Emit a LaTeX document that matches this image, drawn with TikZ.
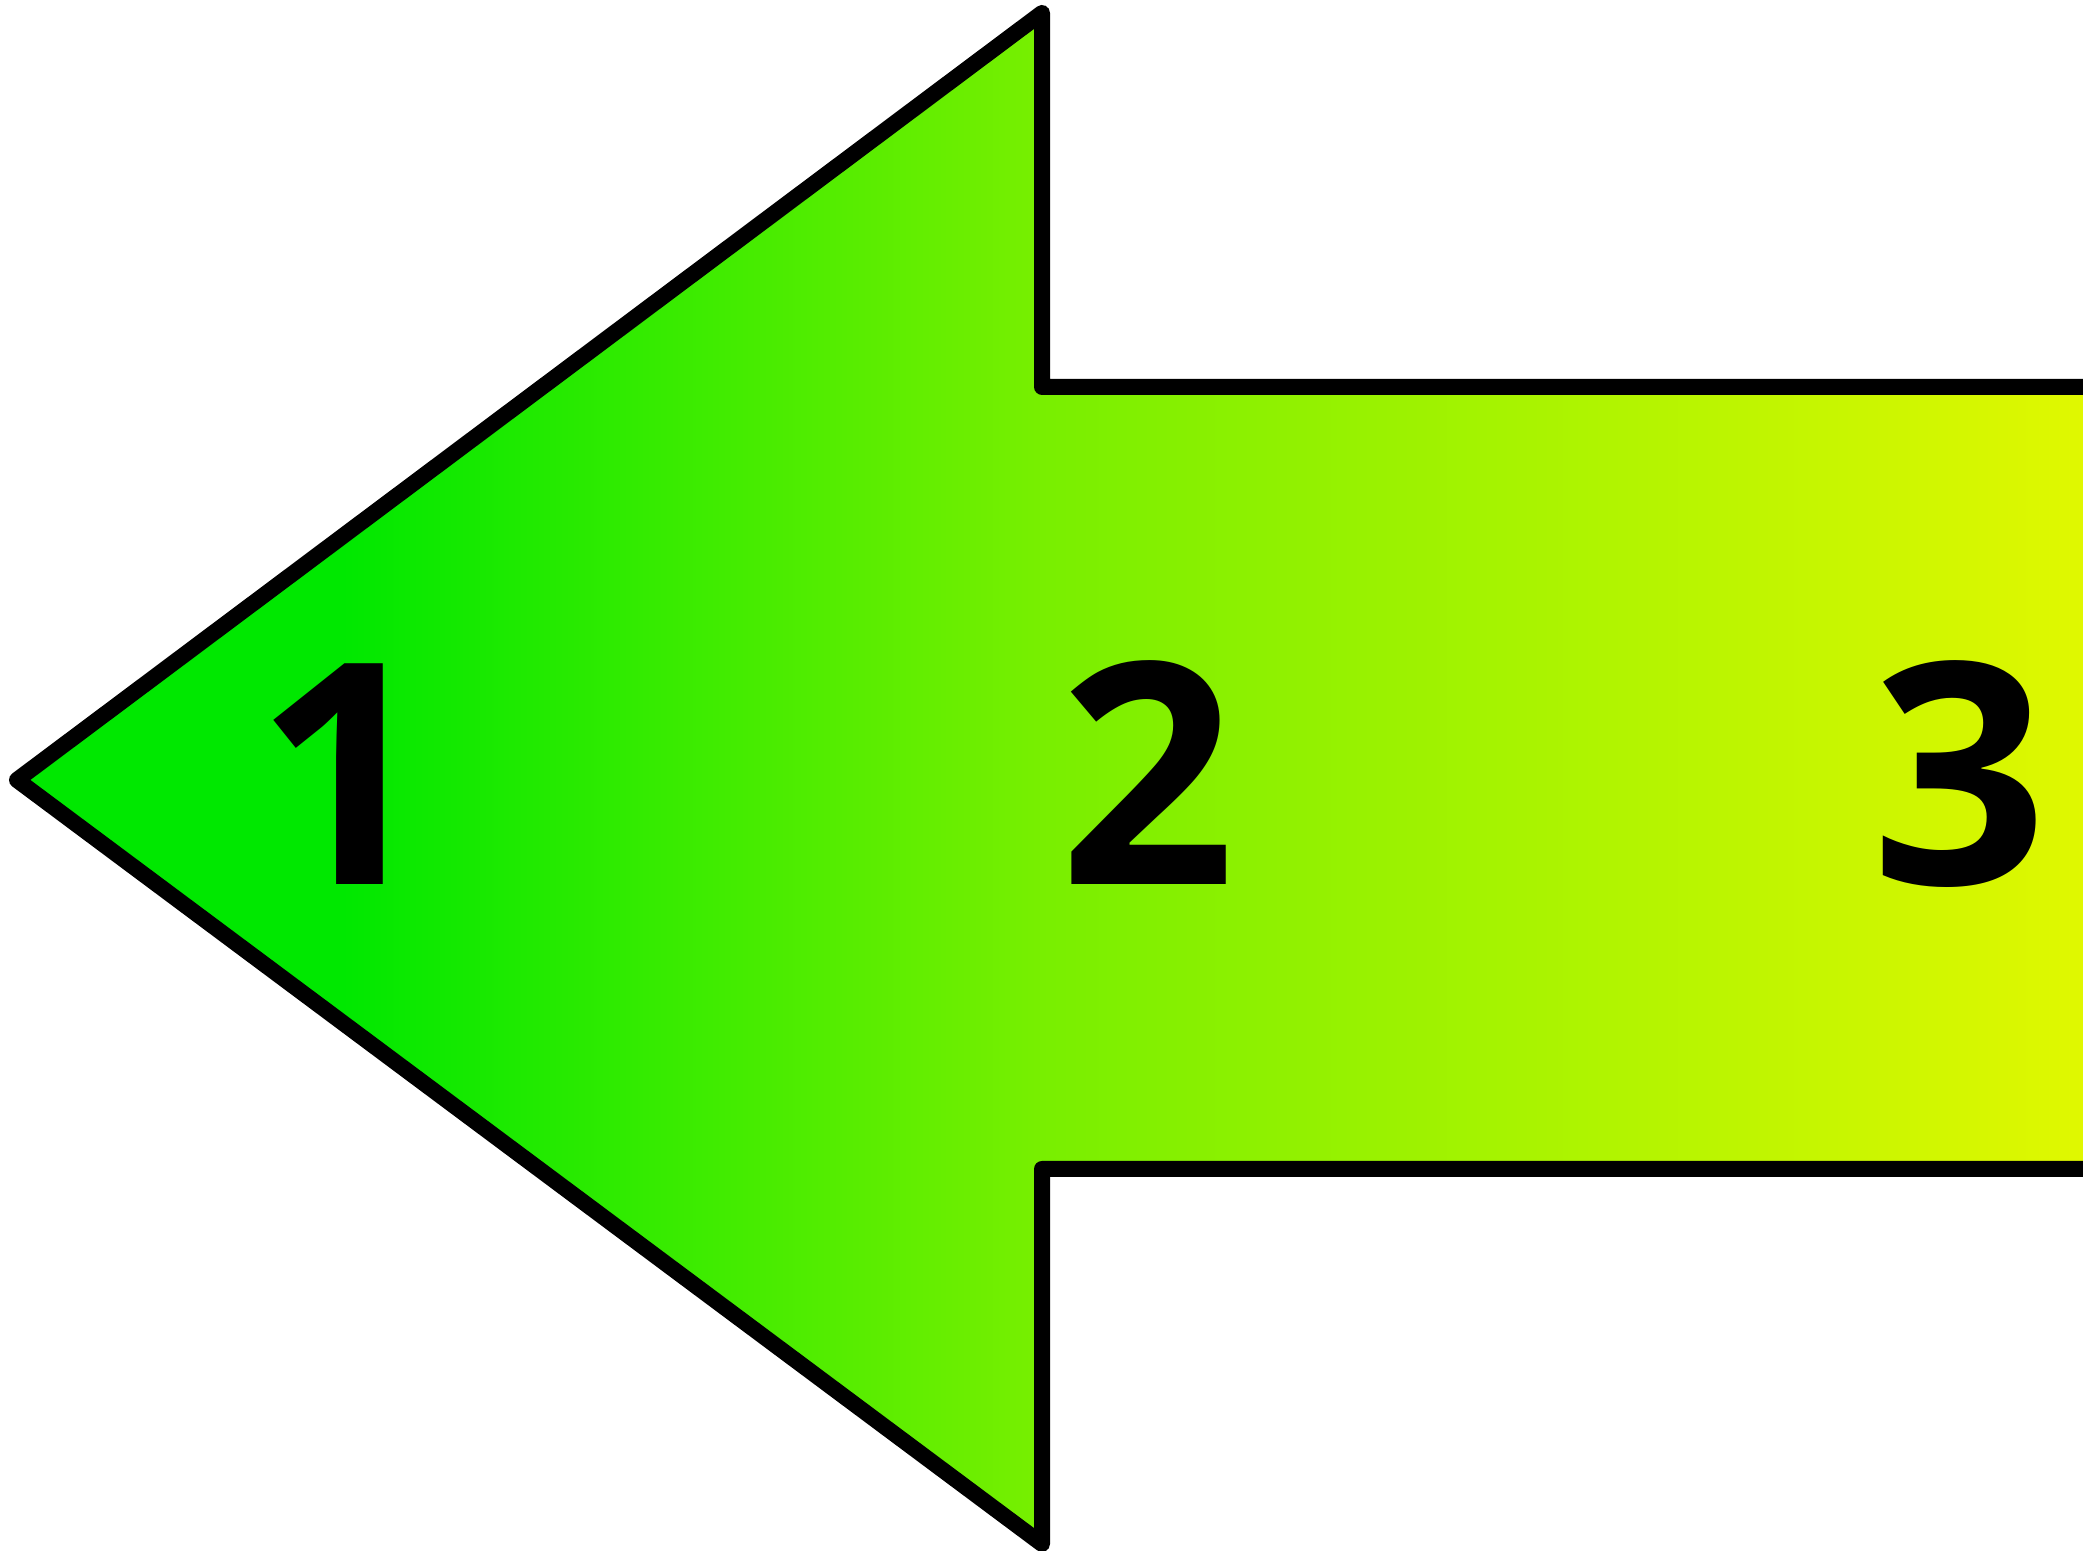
\documentclass[tikz,border=0pt]{standalone}
\usepackage{fontspec}
\setmainfont{Open Sans}
\definecolor{verdeA}{RGB}{0,232,0}
\definecolor{verdeB}{RGB}{120,239,0}
\definecolor{verdeC}{RGB}{224,248,0}
\begin{document}
\begin{tikzpicture}[numero/.style={anchor=base, inner sep=0pt, font=\fontsize{88}{88}\selectfont\bfseries}]
        % Marco de la figura
        \useasboundingbox (0,0) rectangle (20.83,15.51);
        \clip (0,0) rectangle (20.83,15.51);

        % Relleno degradado de la flecha
        \begin{scope}
            \clip (0.17,7.71) -- (10.42,15.38) -- (10.42,11.64) -- (21.5,11.64)
                -- (21.5,3.82) -- (10.42,3.82) -- (10.42,0.07) -- cycle;
            \fill[verdeA] (0,0) rectangle (3.44,15.51);
            \shade[left color=verdeA, right color=verdeB] (3.43,0) rectangle (10.42,15.51);
            \shade[left color=verdeB, right color=verdeC] (10.41,0) rectangle (20.83,15.51);
        \end{scope}

        % Contorno de la flecha (abierto por la derecha)
        \draw[line width=0.16cm, line join=round] (21.5,11.64) -- (10.42,11.64) -- (10.42,15.38)
            -- (0.17,7.71) -- (10.42,0.07) -- (10.42,3.82) -- (21.5,3.82);

        % Numeros
        \node[numero] (uno) at (3.44,6.66) {1};
        \node[numero] (dos) at (11.48,6.66) {2};
        \node[numero] (tres) at (19.60,6.66) {3};
\end{tikzpicture}
\end{document}
